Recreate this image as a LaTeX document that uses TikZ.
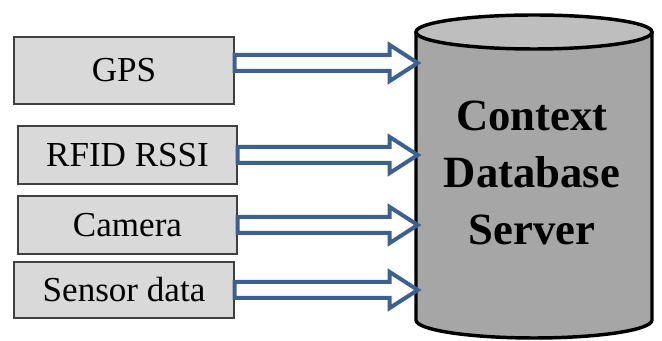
\documentclass[tikz,border=0pt]{standalone}
\usepackage{fontspec}
\setmainfont{Liberation Serif}
\usepackage{tikz}
\usetikzlibrary{calc}
\definecolor{boxgray}{RGB}{217,217,217}
\definecolor{boxline}{RGB}{64,64,64}
\definecolor{dbgray}{RGB}{166,166,166}
\definecolor{dbtop}{RGB}{190,190,190}
\definecolor{arrowblue}{RGB}{60,97,144}
\tikzset{
  srcbox/.style={draw=boxline, fill=boxgray, line width=0.9pt, inner sep=0pt, font=\fontsize{26.3}{30}\selectfont},
  fatarrow/.style={draw=arrowblue, fill=white, line width=3pt, line join=miter},
  cyl/.style={draw=black, line width=2.6pt}
}
\newcommand{\fatarrow}[2]{%
  \draw[fatarrow] ($(#1)+(0,-8)$) -- ($(#2)+(-28,-8)$) -- ($(#2)+(-28,-18)$) -- (#2)
    -- ($(#2)+(-28,18)$) -- ($(#2)+(-28,8)$) -- ($(#1)+(0,8)$) -- cycle;}
\begin{document}
\begin{tikzpicture}[x=0.75pt,y=-0.75pt]
\useasboundingbox (0,0) rectangle (662,341);
% Database cylinder (right)
\fill[dbgray] (416,32) -- (416,320) arc[start angle=180, end angle=0, x radius=118, y radius=18] -- (652,32) -- cycle;
\draw[cyl] (416,32) -- (416,320) arc[start angle=180, end angle=0, x radius=118, y radius=18] -- (652,32);
\draw[cyl, fill=dbtop] (534,32) ellipse[x radius=118, y radius=17];
\node[minimum width=171pt, minimum height=216pt, inner sep=0pt, align=center,
  font=\bfseries\fontsize{33.5}{42.5}\selectfont] (db) at (532,173) {Context\\Database\\Server};
% Data sources (left)
\node[srcbox, minimum width=165pt, minimum height=50.25pt] (gps) at (124,70.5) {GPS};
\node[srcbox, minimum width=164.25pt, minimum height=43.5pt] (rfid) at (127.5,155) {RFID RSSI};
\node[srcbox, minimum width=164.25pt, minimum height=43.5pt] (cam) at (127.5,225) {Camera};
\node[srcbox, minimum width=165pt, minimum height=42pt] (sens) at (124,290) {Sensor data};
% Arrows into the server
\coordinate (in1) at (db.west |- 0,63);
\coordinate (in2) at (db.west |- rfid.east);
\coordinate (in3) at (db.west |- cam.east);
\coordinate (in4) at (db.west |- sens.east);
\fatarrow{gps.east |- in1}{in1}
\fatarrow{rfid.east}{in2}
\fatarrow{cam.east}{in3}
\fatarrow{sens.east}{in4}
\end{tikzpicture}
\end{document}
